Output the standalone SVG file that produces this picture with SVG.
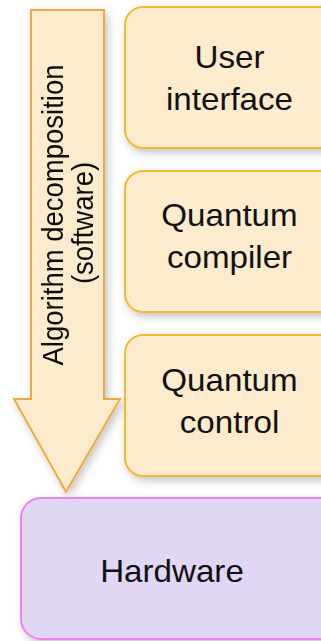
<svg xmlns="http://www.w3.org/2000/svg" width="321" height="641" viewBox="0 0 321 641">
<defs>
<filter id="sh" x="-20%" y="-20%" width="150%" height="150%">
<feDropShadow dx="3" dy="4" stdDeviation="4" flood-color="#000" flood-opacity="0.22"/>
</filter>
</defs>
<style>
.box{fill:#fcebcc;stroke:#f6b731;stroke-width:2}
.hw{fill:#e2d6f5;stroke:#ee82ee;stroke-width:2}
.arrow{fill:#fcebcc;stroke:#f2a842;stroke-width:2}
text{font-family:"Liberation Sans",Arial,sans-serif;fill:#111}
.lbl{font-size:30.7px;text-anchor:middle}
.vl{font-size:27.5px;text-anchor:middle}
</style>
<rect width="321" height="641" fill="#fff"/>
<g id="connectors">
<g id="arrow" filter="url(#sh)">
<polygon class="arrow" points="31,10 104,10 104,399 120,399 66,492 14,399 31,399"/>
<text class="vl" transform="translate(63,215) scale(1.09,1) rotate(-90)">Algorithm decomposition</text>
<text class="vl" transform="translate(93,223) scale(1.09,1) rotate(-90)">(software)</text>
</g>
</g>
<g id="user-interface">
<rect class="box" x="125" y="7" width="225" height="141" rx="18" filter="url(#sh)"/>
<text class="lbl" transform="translate(229.5,68) scale(1.08,1)">User</text>
<text class="lbl" transform="translate(229.5,110) scale(1.08,1)">interface</text>
</g>
<g id="quantum-compiler">
<rect class="box" x="125" y="171" width="225" height="141" rx="18" filter="url(#sh)"/>
<text class="lbl" transform="translate(229.5,226) scale(1.08,1)">Quantum</text>
<text class="lbl" transform="translate(229.5,268) scale(1.08,1)">compiler</text>
</g>
<g id="quantum-control">
<rect class="box" x="125" y="335" width="225" height="141" rx="18" filter="url(#sh)"/>
<text class="lbl" transform="translate(229.5,391) scale(1.08,1)">Quantum</text>
<text class="lbl" transform="translate(229.5,433) scale(1.08,1)">control</text>
</g>
<g id="hardware">
<rect class="hw" x="21" y="498" width="330" height="141" rx="20" filter="url(#sh)"/>
<text class="lbl" transform="translate(172,582) scale(1.08,1)">Hardware</text>
</g>
</svg>
